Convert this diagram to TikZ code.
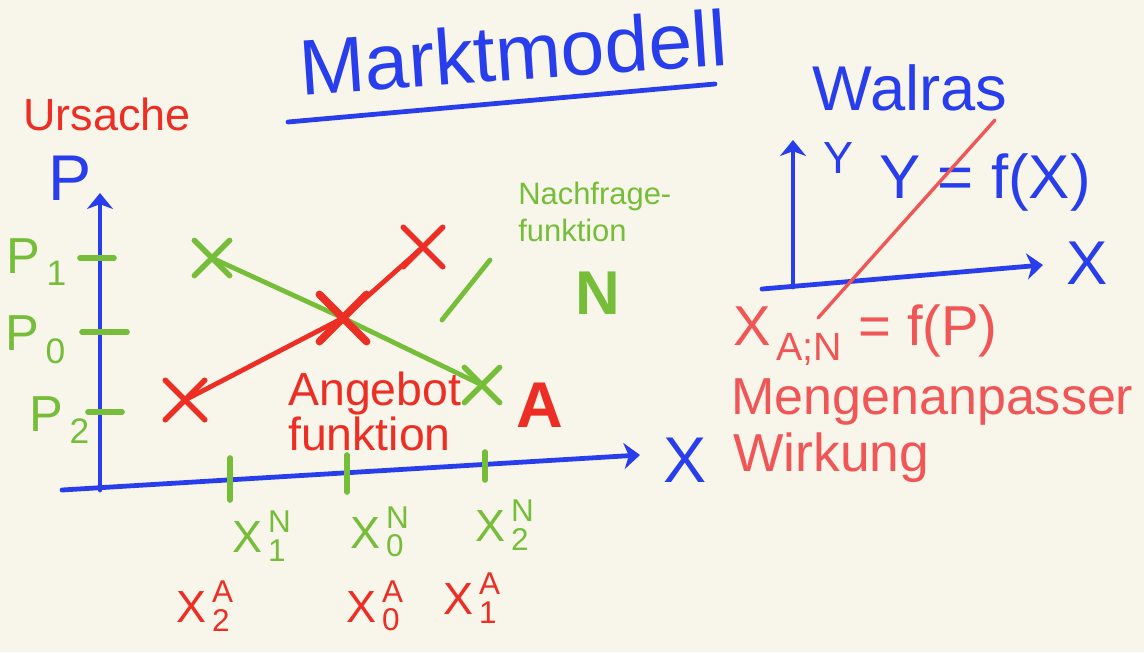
\documentclass[tikz,border=0pt]{standalone}
\usepackage{amsmath}
\usepackage{fontspec}
\setmainfont{Liberation Sans}
\usepackage{tikz}
\usetikzlibrary{arrows.meta,positioning,shapes.misc}
\definecolor{paper}{RGB}{248,245,234}
\definecolor{penblue}{RGB}{40,62,236}
\definecolor{penred}{RGB}{236,46,36}
\definecolor{penpink}{RGB}{240,86,86}
\definecolor{pengreen}{RGB}{118,190,58}
\newcommand{\fsz}[1]{\fontsize{#1pt}{\dimexpr #1pt*12/10\relax}\selectfont}
\newcommand{\xsym}[2]{${\text{X}\,}^{\text{#1}}_{\text{#2}}$}
\newcommand{\psym}[1]{${\text{P}\,}_{\text{#1}}$}
\tikzset{
  ink/.style={line width=3.4pt, line cap=round, line join=round},
  axis/.style={ink, draw=penblue, -{Stealth[length=4mm, width=6.5mm, inset=1.2mm]}},
  tickmark/.style={ink, draw=pengreen, line width=4pt},
  hand/.style={inner sep=0pt, align=left},
  xmark/.style={cross out, draw, line width=4pt, line cap=round,
                minimum size=#1, inner sep=0pt},
}

\begin{document}
\begin{tikzpicture}[x=0.025cm, y=-0.025cm]
  \fill[paper] (0,0) rectangle (1144,652);
  % heading
  \node[hand, text=penblue, font=\fsz{56}, rotate=4] (title) at (513,52) {Marktmodell};
  \coordinate (ul-a) at (288,122);
  \coordinate (ul-b) at (715,84);
  \draw[ink, penblue] (ul-a) -- (ul-b);
  \node[hand, text=penred, font=\fsz{32}] (cause) at (107,114) {Ursache};
  % market diagram: axes
  \coordinate (o) at (100,490);
  \coordinate (ptop) at (100,193);
  \coordinate (xl) at (62,490);
  \coordinate (xr) at (640,455);
  \draw[axis] (o) -- (ptop);
  \draw[axis] (xl) -- (xr);
  \node[hand, text=penblue, font=\fsz{46}] (plab) at (70,178) {P};
  \node[hand, text=penblue, font=\fsz{46}] (xlab) at (685,460) {X};
  % price ticks
  \foreach \y/\a/\b in {258/80/114, 332/82/127, 412/88/122}
    \draw[tickmark] (\a,\y) -- (\b,\y);
  \node[hand, text=pengreen, font=\fsz{36}] (p1) at (37,262) {\psym{1}};
  \node[hand, text=pengreen, font=\fsz{36}] (p0) at (36,340) {\psym{0}};
  \node[hand, text=pengreen, font=\fsz{36}] (p2) at (60,420) {\psym{2}};
  % quantity ticks
  \foreach \x/\a/\b in {230/458/500, 347/455/492, 485/452/480}
    \draw[tickmark] (\x,\a) -- (\x,\b);
  % curves
  \coordinate (n1) at (212,258);
  \coordinate (n2) at (482,385);
  \coordinate (a1) at (423,247);
  \coordinate (a2) at (185,400);
  \coordinate (eq) at (343,318);
  \draw[ink, pengreen] (n1) -- (eq) -- (n2);
  \draw[ink, penred] (a2) -- (eq) -- (a1);
  \node[xmark=21pt, draw=pengreen] (mn1) at (n1) {};
  \node[xmark=21pt, draw=pengreen] (mn2) at (n2) {};
  \node[xmark=24pt, draw=penred] (ma1) at (a1) {};
  \node[xmark=24pt, draw=penred] (ma2) at (a2) {};
  \node[xmark=28pt, draw=penred, line width=5.5pt] (meq) at (eq) {};
  % curve labels
  \coordinate (sl-a) at (442,320);
  \coordinate (sl-b) at (490,260);
  \draw[ink, pengreen] (sl-a) -- (sl-b);
  \node[hand, text=pengreen, font=\fsz{22}, anchor=west] (dem) at (518,212)
    {Nachfrage-\\funktion};
  \node[hand, text=pengreen, font=\fsz{44}\bfseries] (demN) at (598,293) {N};
  \node[hand, text=penred, font=\fontsize{33pt}{29pt}\selectfont,
        anchor=north west] (sup) at (288,372) {Angebot\\funktion};
  \node[hand, text=penred, font=\fsz{46}\bfseries] (supA) at (540,405) {A};
  % quantity labels
  \node[hand, text=pengreen, font=\fsz{32}] (xn1) at (262,536) {\xsym{N}{1}};
  \node[hand, text=pengreen, font=\fsz{32}] (xn0) at (380,532) {\xsym{N}{0}};
  \node[hand, text=pengreen, font=\fsz{32}] (xn2) at (505,525) {\xsym{N}{2}};
  \node[hand, text=penred, font=\fsz{32}] (xa2) at (205,606) {\xsym{A}{2}};
  \node[hand, text=penred, font=\fsz{32}] (xa0) at (375,606) {\xsym{A}{0}};
  \node[hand, text=penred, font=\fsz{32}] (xa1) at (472,598) {\xsym{A}{1}};
  % Walras
  \node[hand, text=penblue, font=\fsz{45}] (walras) at (910,88) {Walras};
  \coordinate (w-o) at (793,287);
  \coordinate (w-top) at (793,140);
  \coordinate (w-l) at (762,289);
  \coordinate (w-r) at (1043,265);
  \draw[axis] (w-o) -- (w-top);
  \draw[axis] (w-l) -- (w-r);
  \node[hand, text=penblue, font=\fsz{32}] (wy) at (838,158) {Y};
  \node[hand, text=penblue, font=\fsz{44}] (wfun) at (985,182) {Y = f(X)};
  \node[hand, text=penblue, font=\fsz{44}] (wx) at (1087,263) {X};
  \coordinate (wl-a) at (995,120);
  \coordinate (wl-b) at (818,318);
  \draw[line width=2.4pt, line cap=round, penpink] (wl-a) -- (wl-b);
  % effect
  \node[hand, text=penpink, font=\fsz{40}, anchor=west] (xfun) at (733,335)
    {${\text{X}\,}_{\text{A;N}}$ = f(P)};
  \node[hand, text=penpink, font=\fsz{37}, anchor=west] (menge) at (731,402)
    {Mengenanpasser};
  \node[hand, text=penpink, font=\fsz{38}, anchor=west] (wirk) at (733,458)
    {Wirkung};
\end{tikzpicture}
\end{document}
